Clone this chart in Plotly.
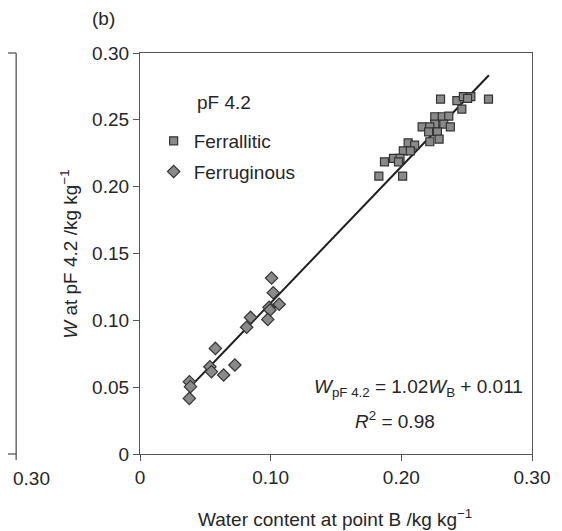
import plotly.graph_objects as go

# Ferrallitic soils (squares)
ferrallitic_x = [0.230, 0.2425, 0.2475, 0.2532, 0.2507, 0.2667, 0.2463, 0.2256, 0.2313, 0.2363,
                 0.2256, 0.2325, 0.2159, 0.2218, 0.2375, 0.2209, 0.2276, 0.2289, 0.2218, 0.2052,
                 0.2102, 0.2015, 0.2069, 0.194, 0.199, 0.1871, 0.1978, 0.1828, 0.201]
ferrallitic_y = [0.2655, 0.2643, 0.2673, 0.2673, 0.266, 0.2655, 0.258, 0.2523, 0.2523, 0.2528,
                 0.2468, 0.2468, 0.2448, 0.2448, 0.2448, 0.241, 0.241, 0.2356, 0.2336, 0.2328,
                 0.2311, 0.2268, 0.2268, 0.2211, 0.2211, 0.2186, 0.2186, 0.2079, 0.2079]

# Ferruginous soils (diamonds)
ferruginous_x = [0.1007, 0.102, 0.1065, 0.0988, 0.0995, 0.0978, 0.0846, 0.0816, 0.0577, 0.0535,
                 0.0547, 0.0726, 0.064, 0.0378, 0.0386, 0.0378]
ferruginous_y = [0.1316, 0.1207, 0.112, 0.1097, 0.1077, 0.1007, 0.1022, 0.0948, 0.079, 0.0653,
                 0.0616, 0.0666, 0.0591, 0.0541, 0.0504, 0.0416]

# Regression W_pF4.2 = 1.02 W_B + 0.011
slope = 1.02
intercept = 0.011
fit_x = [0.037, 0.267]
fit_y = [slope * v + intercept for v in fit_x]

tick_vals_x = [0, 0.10, 0.20, 0.30]
tick_text_x = ["0", "0.10", "0.20", "0.30"]
tick_vals_y = [0, 0.05, 0.10, 0.15, 0.20, 0.25, 0.30]
tick_text_y = ["0", "0.05", "0.10", "0.15", "0.20", "0.25", "0.30"]

FONT = "Liberation Sans, Arial, sans-serif"
FS = 19
AX = "#555555"
TXT = "#262626"

fig = go.Figure()
fig.add_trace(go.Scatter(x=fit_x, y=fit_y, mode="lines", line=dict(color="#1e1e1e", width=2),
                         showlegend=False, hoverinfo="skip"))
fig.add_trace(go.Scatter(x=ferrallitic_x, y=ferrallitic_y, mode="markers", name="Ferrallitic",
                         legendgroup="a",
                         marker=dict(symbol="square", size=8, color="#8a8a8a",
                                     line=dict(color="#333333", width=1.2))))
fig.add_trace(go.Scatter(x=ferruginous_x, y=ferruginous_y, mode="markers", name="Ferruginous",
                         legendgroup="b",
                         marker=dict(symbol="diamond", size=9.5, color="#8a8a8a",
                                     line=dict(color="#333333", width=1.2))))

axis_common = dict(range=[0, 0.30], showgrid=False, zeroline=False, showline=True,
                   linecolor=AX, linewidth=1.3, mirror=True, ticks="outside", ticklen=6,
                   tickcolor=AX, tickwidth=1.3, tickfont=dict(size=FS, color=TXT))
fig.update_xaxes(tickvals=tick_vals_x, ticktext=tick_text_x, **axis_common)
fig.update_yaxes(tickvals=tick_vals_y, ticktext=tick_text_y, **axis_common)

# page is offset by the default 8px body margin
OFF = 8
W, H = 562 - OFF, 531 - OFF
PL, PR, PT, PB = 140, 542, 53, 454  # plot area in page pixels
L, R, T, B = PL - OFF, W - (PR - OFF), PT - OFF, H - (PB - OFF)


def px(xp):
    return (xp - PL) / (PR - PL)


def py(yp):
    return (PB - yp) / (PB - PT)


def ann(text, x, y, **kw):
    d = dict(text=text, x=px(x), y=py(y), xref="paper", yref="paper", showarrow=False,
             xanchor="center", yanchor="middle", font=dict(size=FS, color=TXT))
    d.update(kw)
    return d


annotations = [
    ann("(b)", 103, 18),
    ann("<i>W</i> at pF 4.2 /kg kg<sup>\u22121</sup>", 67, 254, textangle=-90),
    ann("Water content at point B /kg kg<sup>\u22121</sup>", 340, 518),
    ann("<i>W</i><sub>pF 4.2</sub> = 1.02<i>W</i><sub>B</sub> + 0.011", 426, 388),
    ann("<i>R</i><sup>2</sup> = 0.98", 402, 420),
    ann("pF 4.2", 226, 102),
    ann("0.30", 8, 478, xanchor="left"),
]

shapes = [
    dict(type="line", xref="paper", yref="paper", x0=px(0), x1=px(13), y0=1, y1=1,
         line=dict(color=AX, width=1.3)),
    dict(type="line", xref="paper", yref="paper", x0=px(13), x1=px(13), y0=py(460), y1=1,
         line=dict(color=AX, width=1.3)),
    dict(type="line", xref="paper", yref="paper", x0=px(0), x1=px(13), y0=0, y1=0,
         line=dict(color=AX, width=1.3)),
]

fig.update_layout(
    width=W, height=H,
    margin=dict(l=L, r=R, t=T, b=B, pad=0),
    paper_bgcolor="white", plot_bgcolor="white",
    font=dict(family=FONT, size=FS, color=TXT),
    showlegend=True,
    legend=dict(x=px(154), y=py(122), xanchor="left", yanchor="top",
                bgcolor="rgba(0,0,0,0)", font=dict(size=FS, color=TXT),
                tracegroupgap=3, itemwidth=30),
    annotations=annotations,
    shapes=shapes,
)

fig.write_html("out.html")
